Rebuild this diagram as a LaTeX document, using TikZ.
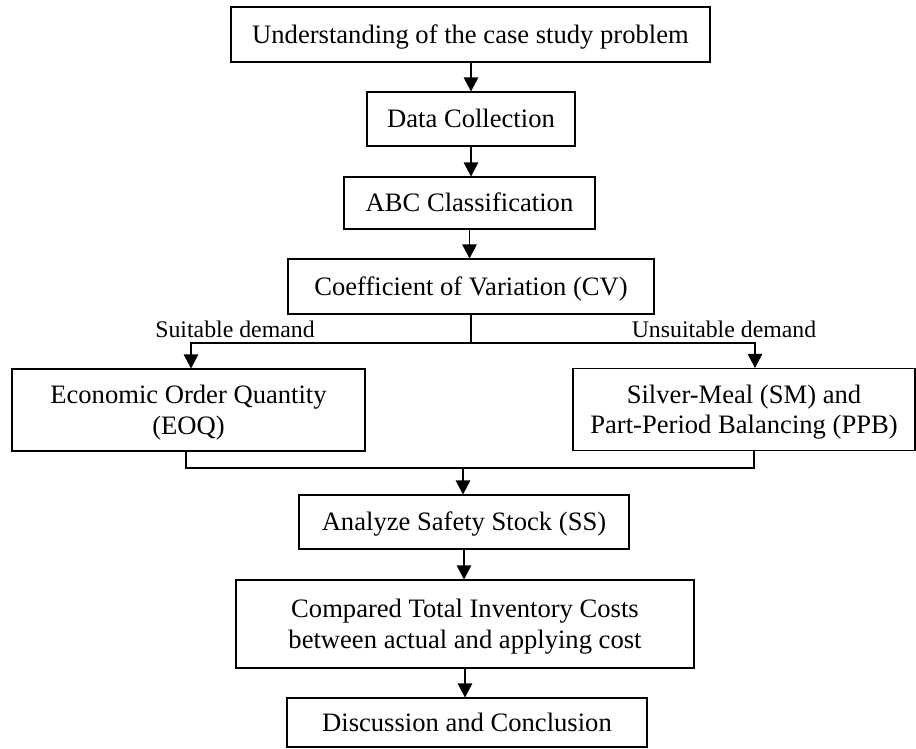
\documentclass[tikz,border=0pt]{standalone}
\usepackage{fontspec}
\setmainfont{Liberation Serif}
\usetikzlibrary{arrows.meta}
\begin{document}
\begin{tikzpicture}[x=1pt,y=-1pt,
  box/.style={draw=black,line width=1.1pt,rectangle,inner sep=0pt,align=center,
    font=\fontsize{26.6}{30.5}\selectfont,text height=17.6pt,text depth=0pt},
  box2/.style={box,text height=48.1pt},
  lbl/.style={inner sep=0pt,font=\fontsize{23.8}{28}\selectfont,anchor=base},
  conn/.style={line width=1.1pt,draw=black},
  arr/.style={conn,-{Triangle[width=14.5pt,length=14pt]}}]
\useasboundingbox (0,0) rectangle (916,748);
\node[box,minimum width=479pt,minimum height=55pt] (b1) at (470.5,34.5) {Understanding of the case study problem};
\node[box,minimum width=208pt,minimum height=54pt] (dc) at (471,119) {Data Collection};
\node[box,minimum width=251pt,minimum height=52pt] (abc) at (469.5,203) {ABC Classification};
\node[box,minimum width=366pt,minimum height=55pt] (cv) at (471,286.5) {Coefficient of Variation (CV)};
\node[box2,minimum width=353pt,minimum height=82pt] (eoq) at (188.5,410) {Economic Order Quantity\\(EOQ)};
\node[box2,minimum width=342pt,minimum height=82pt] (sm) at (744,409.5) {Silver-Meal (SM) and\\Part-Period Balancing (PPB)};
\node[box,minimum width=330pt,minimum height=54pt] (ss) at (464,522) {Analyze Safety Stock (SS)};
\node[box2,minimum width=458pt,minimum height=88pt] (cmp) at (465,624) {Compared Total Inventory Costs\\between actual and applying cost};
\node[box,minimum width=360pt,minimum height=49pt] (dis) at (467,722.5) {Discussion and Conclusion};
\node[lbl] (lsuit) at (235,337) {Suitable demand};
\node[lbl] (lunsuit) at (724,337) {Unsuitable demand};
\coordinate (split) at (471,343);
\coordinate (join) at (463,468);
\draw[arr] (b1.south -| dc.north) -- (dc.north);
\draw[arr] (dc.south) -- (dc.south |- abc.north);
\draw[arr] (abc.south) -- (abc.south |- cv.north);
\draw[conn] (cv.south) -- (split);
\draw[arr] (split) -| ([xshift=2.5pt]eoq.north);
\draw[arr] (split) -| ([xshift=11pt]sm.north);
\draw[conn] ([xshift=-2.5pt]eoq.south) |- (join);
\draw[conn] ([xshift=10pt]sm.south) |- (join);
\draw[arr] (join) -- (join |- ss.north);
\draw[arr] (ss.south) -- (ss.south |- cmp.north);
\draw[arr] (cmp.south) -- (cmp.south |- dis.north);
\end{tikzpicture}
\end{document}
